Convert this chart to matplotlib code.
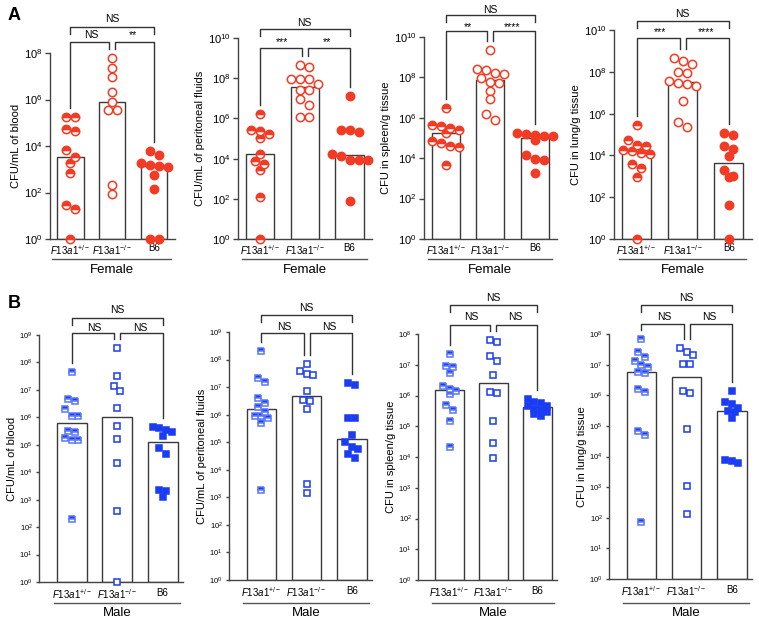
import numpy as np
import matplotlib
matplotlib.use("Agg")
import matplotlib.pyplot as plt
from matplotlib.lines import Line2D
from matplotlib.ticker import NullLocator

plt.rcParams['font.family'] = ['Liberation Sans', 'DejaVu Sans']
plt.rcParams['mathtext.fontset'] = 'custom'
plt.rcParams['mathtext.rm'] = 'Liberation Sans'
plt.rcParams['mathtext.it'] = 'Liberation Sans:italic'
plt.rcParams['mathtext.bf'] = 'Liberation Sans:bold'

groups = [r"$\mathit{F13a1}^{+/-}$", r"$\mathit{F13a1}^{-/-}$", "B6"]

# log10 CFU per animal: [F13a1+/-, F13a1-/-, B6]
f_blood = [[5.25, 5.25, 4.75, 4.63, 3.81, 3.53, 3.28, 2.85, 1.48, 1.30, 0.0],
           [7.78, 7.35, 6.97, 6.32, 5.89, 5.53, 5.53, 2.34, 1.95],
           [3.77, 3.63, 3.27, 3.17, 3.14, 3.10, 2.74, 2.14, 0.0, 0.0]]
f_perit = [[6.20, 5.44, 5.36, 5.21, 5.02, 4.21, 3.86, 3.75, 3.42, 2.09, 0.0],
           [8.64, 8.56, 7.98, 7.98, 7.94, 7.73, 7.40, 7.40, 6.98, 6.68, 6.07, 6.07],
           [7.10, 5.44, 5.41, 5.32, 4.25, 4.13, 3.95, 3.91, 3.91, 1.87]]
f_spleen = [[6.50, 5.63, 5.59, 5.51, 5.38, 5.25, 4.85, 4.75, 4.62, 4.55, 3.66],
            [9.37, 8.40, 8.35, 8.22, 8.15, 7.97, 7.77, 7.72, 7.33, 6.91, 6.20, 5.87],
            [5.25, 5.18, 5.13, 5.10, 5.08, 4.92, 4.14, 3.95, 3.89, 3.28]]
f_lung = [[5.45, 4.73, 4.52, 4.46, 4.28, 4.20, 4.12, 4.06, 3.61, 3.40, 2.97, 0.0],
          [8.64, 8.51, 8.37, 8.00, 7.95, 7.55, 7.45, 7.44, 7.30, 6.61, 5.61, 5.37],
          [5.05, 4.97, 4.46, 4.33, 3.98, 3.32, 3.02, 2.97, 1.65, 0.0]]
m_blood = [[7.66, 6.67, 6.61, 6.29, 6.06, 6.06, 5.51, 5.47, 5.23, 5.17, 5.17, 2.31],
           [8.52, 7.51, 7.15, 6.97, 6.35, 5.69, 5.21, 4.32, 2.58, 0.0],
           [5.63, 5.60, 5.54, 5.47, 5.32, 4.89, 4.68, 3.37, 3.32, 3.10]]
m_perit = [[8.30, 7.33, 7.19, 6.61, 6.43, 6.28, 6.10, 5.95, 5.95, 5.89, 5.68, 3.26],
           [7.83, 7.58, 7.46, 7.43, 6.85, 6.52, 6.50, 6.20, 3.47, 3.16],
           [7.15, 7.09, 5.89, 5.89, 5.25, 4.99, 4.83, 4.77, 4.59, 4.43]]
m_spleen = [[7.36, 6.95, 6.93, 6.72, 6.31, 6.22, 6.15, 6.05, 5.70, 5.52, 5.16, 4.31],
            [7.82, 7.73, 7.27, 7.13, 6.68, 6.13, 6.08, 5.16, 4.45, 3.96],
            [5.88, 5.78, 5.74, 5.67, 5.66, 5.57, 5.52, 5.45, 5.40, 5.34]]
m_lung = [[7.83, 7.40, 7.26, 7.12, 6.98, 6.91, 6.77, 6.72, 6.20, 6.10, 4.82, 4.71, 1.85],
          [7.53, 7.40, 7.32, 7.02, 7.02, 6.14, 6.07, 4.89, 3.05, 2.12],
          [6.15, 5.79, 5.72, 5.60, 5.50, 5.45, 5.27, 3.89, 3.86, 3.78]]

RED = '#f23b24'
BLUE = '#1a3cf2'
LBLUE = '#5a78f5'
W, H = 759, 628

fig = plt.figure(figsize=(W / 100, H / 100), dpi=100)


def line(xs, ys, **kw):
    kw.setdefault('color', '#333333')
    kw.setdefault('lw', 1.0)
    fig.add_artist(Line2D([x / W for x in xs], [1 - y / H for y in ys],
                          transform=fig.transFigure, **kw))


def text(x, y, s, **kw):
    fig.text(x / W, 1 - y / H, s, ha='center', va='center', **kw)


def to_px(ax, x, v):
    d = ax.transData.transform((x, v))
    return d[0], H - d[1]


def scatter_rows(ax, xc, vals, step, thr, max_n=5):
    # GraphPad-like: points close in y share a row, spread symmetrically
    x0 = to_px(ax, xc, 1)[0]
    unit = to_px(ax, xc + 1, 1)[0] - x0
    order = list(np.argsort(vals)[::-1])
    ys = {i: to_px(ax, xc, 10 ** vals[i])[1] for i in order}
    xs = np.zeros(len(vals))
    while order:
        row = [order.pop(0)]
        while order and len(row) < max_n and ys[order[0]] - ys[row[0]] < thr:
            row.append(order.pop(0))
        n = len(row)
        for k, i in enumerate(row):
            xs[i] = xc + (k - (n - 1) / 2) * step / unit
    return xs


female = dict(sex='Female', xlim=(-0.49, 2.5), width=0.63, step=2, tick_fs=8,
              color=RED, marker='o', ms=6.0, sw=9, thr=7, under=259, label_y=270, pad=3)
male = dict(sex='Male', xlim=(-0.72, 2.45), width=0.66, step=1, tick_fs=5.5,
            color=BLUE, marker='s', ms=4.4, sw=6.5, thr=6.5, under=603, label_y=613, pad=4)

panels = [
    (female, f_blood, (50, 175, 53, 239), 8, 'CFU/mL of blood', ('NS', 'NS', '**'), (19, 27, 35, 42)),
    (female, f_perit, (238, 372, 38, 239), 10, 'CFU/mL of peritoneal fluids', ('NS', '***', '**'), (23, 29, 42, 48)),
    (female, f_spleen, (424, 557, 37, 239), 10, 'CFU in spleen/g tissue', ('NS', '**', '****'), (10, 15, 27, 31)),
    (female, f_lung, (614, 752, 30, 239), 10, 'CFU in lung/g tissue', ('NS', '***', '****'), (14, 21, 32, 38)),
    (male, m_blood, (39, 183, 335, 582), 9, 'CFU/mL of blood', ('NS', 'NS', 'NS'), (310, 318, 328, 333)),
    (male, m_perit, (229, 372, 332, 580), 9, 'CFU/mL of peritoneal fluids', ('NS', 'NS', 'NS'), (308, 315, 327, 333)),
    (male, m_spleen, (418, 557, 334, 580), 8, 'CFU in spleen/g tissue', ('NS', 'NS', 'NS'), (298, 305, 317, 325)),
    (male, m_lung, (609, 752, 334, 579), 8, 'CFU in lung/g tissue', ('NS', 'NS', 'NS'), (298, 305, 317, 324)),
]

for st, data, (l, r, t, b), top, ylabel, sig, (tt, tl, lt, ll) in panels:
    ax = fig.add_axes([l / W, 1 - b / H, (r - l) / W, (b - t) / H])
    ax.set_yscale('log')
    ax.set_ylim(1, 10 ** top)
    ax.set_xlim(*st['xlim'])
    for sp in ['top', 'right']:
        ax.spines[sp].set_visible(False)
    for sp in ['left', 'bottom']:
        ax.spines[sp].set_color('#444444')
        ax.spines[sp].set_linewidth(1.0)
    ks = list(range(0, top + 1, st['step']))
    ax.set_yticks([10 ** k for k in ks])
    ax.set_yticklabels([f"$10^{{{k}}}$" for k in ks])
    ax.yaxis.set_minor_locator(NullLocator())
    ax.tick_params(axis='y', labelsize=st['tick_fs'], length=3.5 if st is female else 2.5,
                   width=1.0, color='#444444', pad=2)
    ax.set_xticks([0, 1, 2])
    ax.set_xticklabels(groups, fontsize=7)
    ax.tick_params(axis='x', length=0, pad=st['pad'])
    ax.set_ylabel(ylabel, fontsize=8, labelpad=2)

    meds = [10 ** np.median(g) for g in data]
    ax.bar([0, 1, 2], [m - 1 for m in meds], bottom=1, width=st['width'],
           facecolor='white', edgecolor='#3a3a3a', linewidth=1.0, zorder=1)

    c = st['color']
    styles = [dict(mfc=c, mfcalt='white', fillstyle='top', mec=c if st is female else LBLUE),
              dict(mfc='white', mec=c),
              dict(mfc=c, mec=c)]
    for i, g in enumerate(data):
        g = np.array(g)
        xs = scatter_rows(ax, i, g, st['sw'], st['thr'])
        ax.plot(xs, 10 ** g, ls='none', marker=st['marker'], ms=st['ms'], mew=1.1,
                clip_on=False, zorder=3, **styles[i])

    # brackets
    cx = [to_px(ax, i, 1)[0] for i in range(3)]
    tops = [to_px(ax, i, 10 ** max(g))[1] - 9 for i, g in enumerate(data)]
    line([cx[0], cx[0], cx[2], cx[2]], [tl + 7, tl, tl, tl + 7])
    text((cx[0] + cx[2]) / 2, tt, sig[0], fontsize=7.5)
    legs_l = [max(tops[0], ll + 4), max(tops[1], ll + 4)]
    legs_r = [max(tops[1], ll + 4), max(tops[2], ll + 4)]
    line([cx[0], cx[0], cx[1] - 3, cx[1] - 3], [legs_l[0], ll, ll, legs_l[1]])
    line([cx[1] + 3, cx[1] + 3, cx[2], cx[2]], [legs_r[0], ll, ll, legs_r[1]])
    text((cx[0] + cx[1]) / 2, lt, sig[1], fontsize=7.5)
    text((cx[1] + cx[2]) / 2, lt, sig[2], fontsize=7.5)

    # sex label
    line([cx[0] - 18, cx[2] + 17], [st['under'], st['under']], color='#555555')
    text((cx[0] + cx[2]) / 2, st['label_y'], st['sex'], fontsize=9.5)

text(14, 15, 'A', fontsize=13, fontweight='bold')
text(14, 303, 'B', fontsize=13, fontweight='bold')

fig.savefig('out.png', dpi=100)
